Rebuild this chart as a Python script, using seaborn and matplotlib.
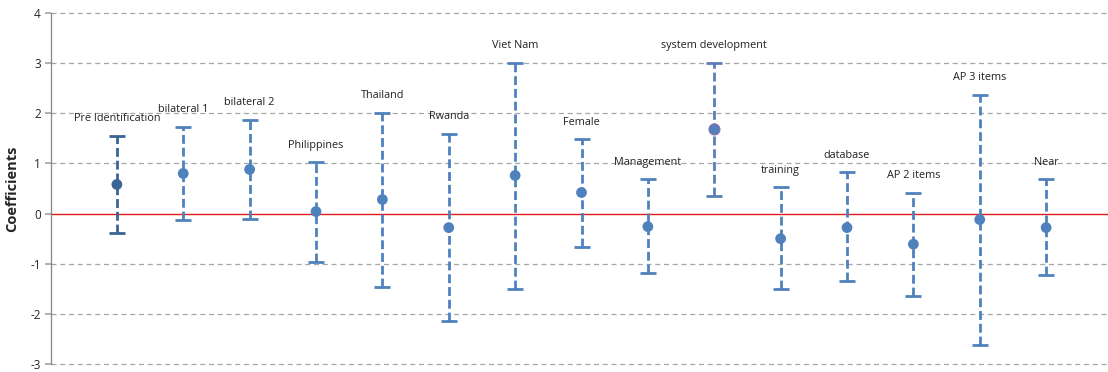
import matplotlib
matplotlib.use("Agg")
import matplotlib.pyplot as plt
import seaborn as sns
import pandas as pd
import numpy as np

# Coefficient estimates with their confidence bounds
categories = ["Pre Identification", "bilateral 1", "bilateral 2", "Philippines", "Thailand",
              "Rwanda", "Viet Nam", "Female", "Management", "system development",
              "training", "database", "AP 2 items", "AP 3 items", "Near"]
coef = [0.58, 0.80, 0.88, 0.04, 0.28, -0.28, 0.76, 0.42, -0.26, 1.69,
        -0.50, -0.28, -0.61, -0.12, -0.28]
upper = [1.55, 1.73, 1.87, 1.02, 2.00, 1.59, 3.00, 1.48, 0.68, 3.00,
         0.52, 0.82, 0.42, 2.36, 0.68]
lower = [-0.38, -0.12, -0.10, -0.97, -1.46, -2.14, -1.51, -0.66, -1.19, 0.36,
         -1.51, -1.35, -1.65, -2.62, -1.23]
yticks = [-3, -2, -1, 0, 1, 2, 3, 4]

df = pd.DataFrame({"term": categories, "coef": coef, "upper": upper, "lower": lower})
df["pos"] = np.arange(1, len(df) + 1)

blue = "#4F81BD"
bar_colors = [blue] * len(df)
bar_colors[0] = "#3B6496"
bar_colors[9] = "#5B7DB8"
point_colors = [blue] * len(df)
point_colors[0] = "#3B6496"
cap_colors = list(bar_colors)
cap_colors[9] = "#7D6AA8"

sns.set_theme(style="white")
plt.rcParams["font.family"] = ["Open Sans", "DejaVu Sans"]

fig = plt.figure(figsize=(11.08, 3.72), dpi=100)
ax = fig.add_axes([50.5 / 1108, 8 / 372, 1062 / 1108, 351 / 372])

# Gridlines
for t in yticks:
    if t != 0:
        ax.axhline(t, color="#a6a6a6", lw=0.9, ls=(0, (4, 3)), zorder=0, clip_on=False)
ax.axhline(0, color="#e31a1c", lw=1.0, zorder=1)

# Whiskers
for i, row in df.iterrows():
    eb = ax.errorbar(row["pos"], row["coef"],
                     yerr=[[row["coef"] - row["lower"]], [row["upper"] - row["coef"]]],
                     fmt="none", ecolor=bar_colors[i], elinewidth=2.0,
                     capsize=5.5, capthick=2.0, zorder=2)
    for lc in eb[2]:
        lc.set_linestyle((0, (3.2, 1.4)))
    for cap in eb[1]:
        cap.set_color(cap_colors[i])

# Point estimates
sns.scatterplot(data=df, x="pos", y="coef", hue="term", palette=point_colors,
                s=60, linewidth=0, legend=False, ax=ax, zorder=3)
# purple rim on the system development point
ax.scatter([df["pos"][9]], [df["coef"][9]], s=60, facecolor=blue,
           edgecolor="#8A6FB0", linewidth=0.9, zorder=4)

# Term labels above each upper bound
for i, row in df.iterrows():
    ax.annotate(row["term"], (row["pos"], row["upper"]), xytext=(0, 8.5),
                textcoords="offset points", ha="center", va="bottom",
                fontsize=7.8, color="#222222")

ax.set_xlim(0, 16)
ax.set_ylim(-3, 4)
ax.set_yticks(yticks)
ax.set_yticklabels([str(t) for t in yticks], fontsize=8.5)
ax.set_xticks([])
ax.set_xlabel("")
ax.set_ylabel("Coefficients", fontsize=10.5, fontweight="bold", labelpad=8)
ax.tick_params(axis="y", length=4, color="#a6a6a6", pad=3, direction="out", left=True)
for side in ["top", "right", "bottom"]:
    ax.spines[side].set_visible(False)
ax.spines["left"].set_color("#868686")
ax.spines["left"].set_linewidth(0.9)

fig.savefig("out.png", dpi=100)
